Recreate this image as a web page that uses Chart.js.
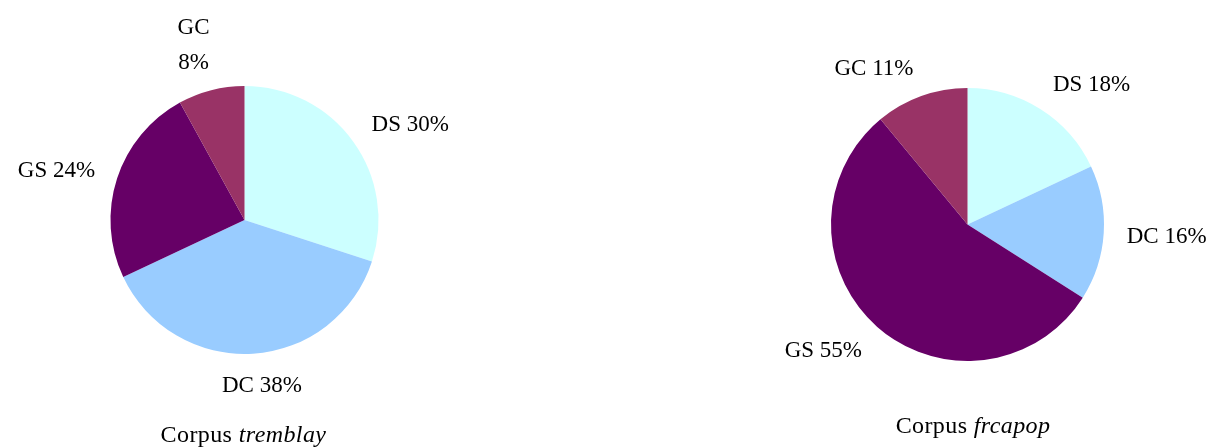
<!DOCTYPE html>
<html>
<head>
<meta charset="utf-8">
<script src="https://cdn.jsdelivr.net/npm/chart.js@4.4.1/dist/chart.umd.min.js"></script>
<style>
	html, body { margin: 0; padding: 0; background: #fff; }
	body { width: 1217px; height: 448px; position: relative; overflow: hidden; }
	.box { position: absolute; top: 0; width: 600px; height: 448px; }
	.title {
		position: absolute; width: 400px; text-align: center;
		font-family: 'Liberation Serif', serif; font-size: 24px; line-height: 24px;
		letter-spacing: 0.4px; color: #000;
	}
</style>
</head>
<body>
<div class="box" style="left:0"><canvas id="pieTremblay"></canvas></div>
<div class="box" style="left:617px"><canvas id="pieFrcapop"></canvas></div>
<div class="title" style="left:43.5px; top:422px">Corpus <i>tremblay</i></div>
<div class="title" style="left:773px; top:413px">Corpus <i>frcapop</i></div>
<script>
// data
const categories = ['DS', 'DC', 'GS', 'GC']
const sliceColors = ['#CCFFFF', '#99CCFF', '#660066', '#993366']
const tremblayValues = [30, 38, 24, 8]
const frcapopValues = [18, 16, 55, 11]

const FONT_SIZE = 23
const GAP = 23
const LINE_GAP = 35

// labels outside each slice, like "DS 30%"
const outsideLabels = {
	id: 'outsideLabels',
	afterDatasetsDraw(chart, args, opts) {
		const ctx = chart.ctx
		const meta = chart.getDatasetMeta(0)
		const data = chart.data.datasets[0].data
		ctx.save()
		ctx.font = FONT_SIZE + 'px "Liberation Serif"'
		ctx.fillStyle = '#000'
		ctx.textAlign = 'center'
		ctx.textBaseline = 'alphabetic'
		meta.data.forEach((arc, i) => {
			const p = arc.getProps(['x', 'y', 'startAngle', 'endAngle', 'outerRadius'], true)
			const mid = (p.startAngle + p.endAngle) / 2
			const ux = Math.cos(mid)
			const uy = Math.sin(mid)
			const name = chart.data.labels[i]
			const pct = data[i] + '%'
			const lines = (opts.wrap || []).includes(name) ? [name, pct] : [name + ' ' + pct]
			const w = Math.max(...lines.map((l) => ctx.measureText(l).width))
			const capH = FONT_SIZE * 0.66
			const h = capH + (lines.length - 1) * LINE_GAP
			// push the box sideways faster than the angle so it clears the pie
			const sx = Math.sign(ux) * Math.min(1, Math.abs(ux) * 3)
			const cx = p.x + (p.outerRadius + GAP) * ux + (sx * w) / 2
			const cy = p.y + (p.outerRadius + GAP) * uy + (uy * h) / 2
			lines.forEach((l, j) => ctx.fillText(l, cx, cy - h / 2 + capH + j * LINE_GAP))
		})
		ctx.restore()
	},
}

const pieChart = (id, values, padding, wrap) => {
	const ctx = document.getElementById(id).getContext('2d')
	return new Chart(ctx, {
		type: 'pie',
		data: {
			labels: categories,
			datasets: [
				{
					data: values,
					backgroundColor: sliceColors,
					borderWidth: 0,
					hoverBorderWidth: 0,
					hoverOffset: 0,
				},
			],
		},
		options: {
			responsive: true,
			maintainAspectRatio: false,
			animation: false,
			layout: { padding: padding },
			plugins: {
				legend: { display: false },
				tooltip: { enabled: false },
				outsideLabels: { wrap: wrap },
			},
		},
		plugins: [outsideLabels],
	})
}

pieChart('pieTremblay', tremblayValues, { left: 110.5, right: 221.5, top: 86, bottom: 94 }, ['GC'])
pieChart('pieFrcapop', frcapopValues, { left: 214, right: 113, top: 88, bottom: 87 }, [])
</script>
</body>
</html>
